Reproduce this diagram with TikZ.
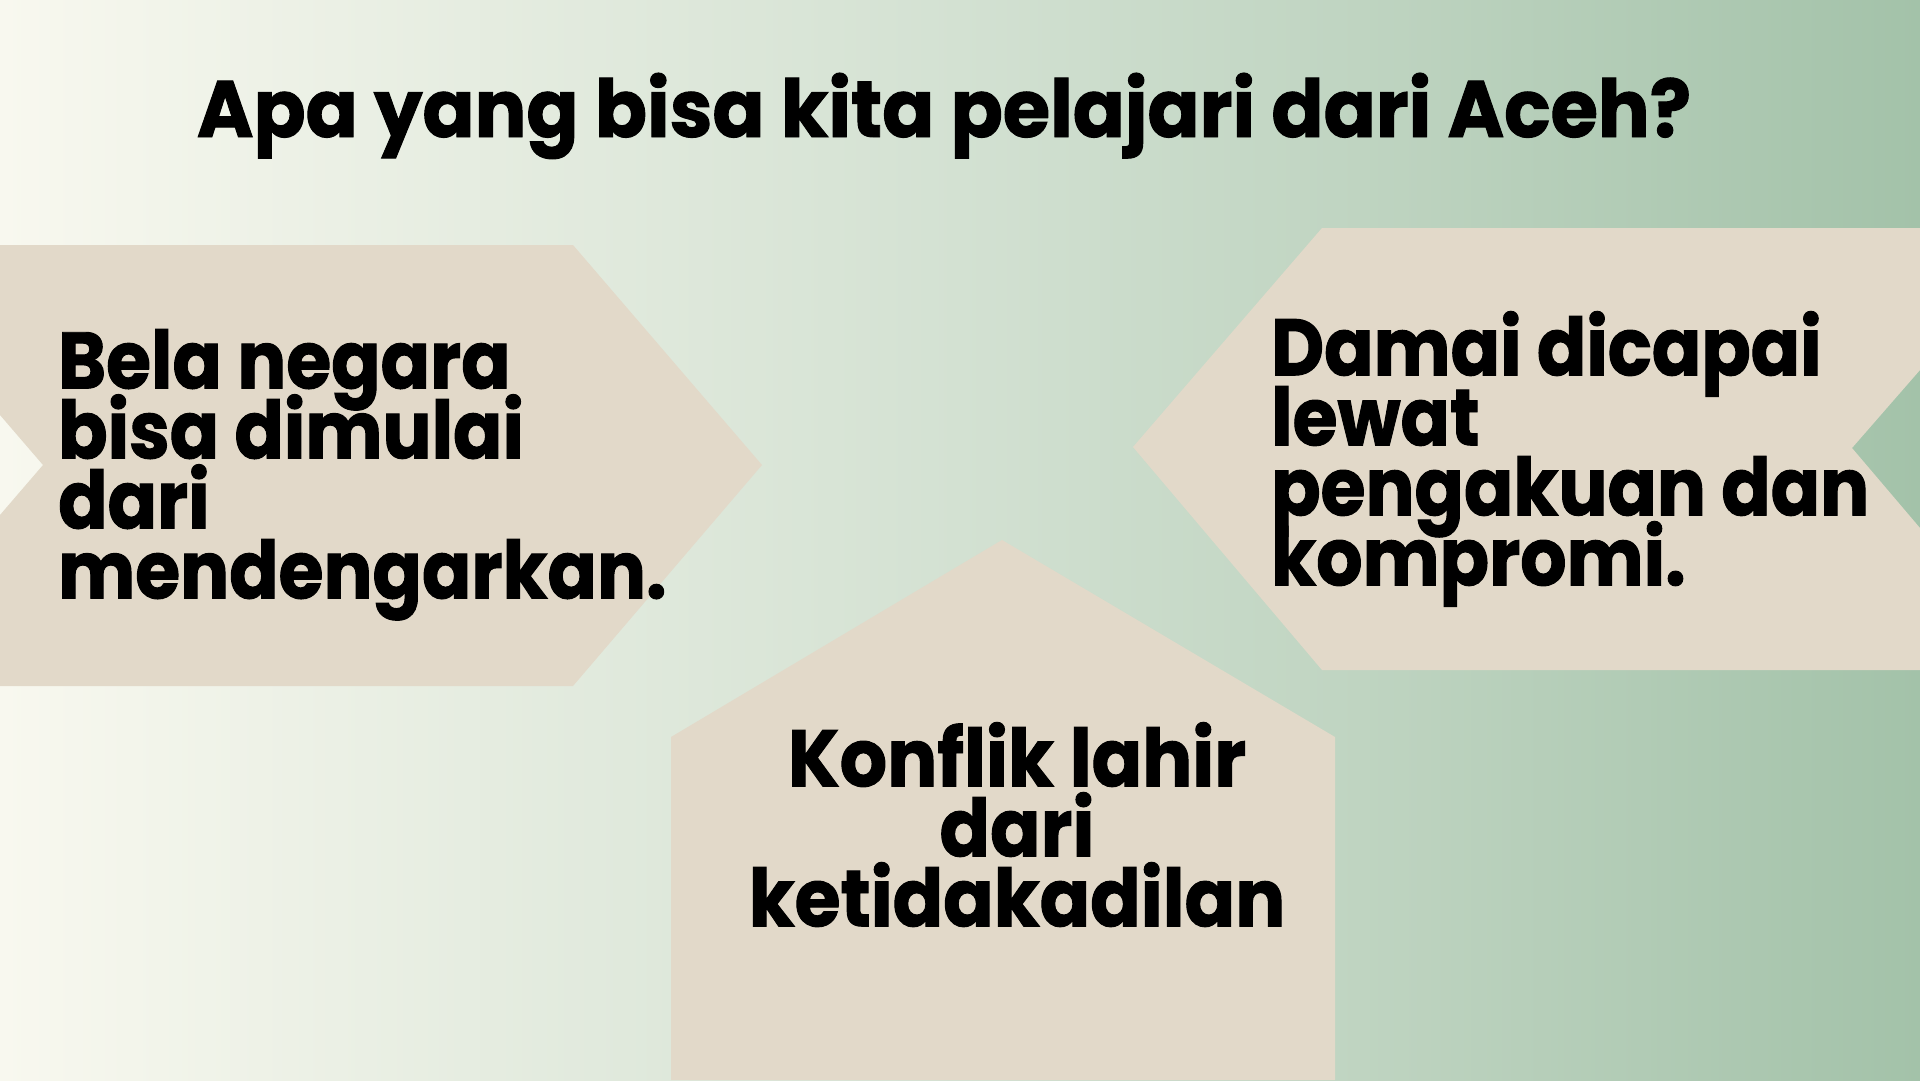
\documentclass[tikz,border=0pt]{standalone}
\usepackage{fontspec}
\setmainfont{Poppins}[BoldFont={* Bold}]
\newfontfamily\bodyfont{Poppins}[BoldFont={* Bold},FakeStretch=0.91,FakeBold=1.2]
\newfontfamily\lowfont{Poppins}[BoldFont={* Bold},FakeStretch=0.93,FakeBold=1.2]
\newfontfamily\headfont{Poppins}[BoldFont={* Bold},FakeStretch=0.96,FakeBold=1.2]
\newcommand\tightlines{\lineskiplimit=-200pt\relax\lineskip=0pt\relax}
\definecolor{bgleft}{HTML}{F8F8EF}
\definecolor{bgmid}{HTML}{D3E1D2}
\definecolor{bgright}{HTML}{A3C2A9}
\definecolor{panel}{HTML}{E2D9C9}
\tikzset{
  panelshape/.style={fill=panel, draw=none},
  bigtext/.style={inner sep=0pt, font={\bodyfont\bfseries\fontsize{80}{70}\selectfont\tightlines}, text=black},
  lowtext/.style={inner sep=0pt, font={\lowfont\bfseries\fontsize{80}{70}\selectfont\tightlines}, text=black},
  titletext/.style={inner sep=0pt, font={\headfont\bfseries\fontsize{80}{80}\selectfont}, text=black}
}
\begin{document}
\begin{tikzpicture}[x=1pt,y=-1pt]
\useasboundingbox (0,0) rectangle (1920,1080);
\shade[left color=bgleft, right color=bgright, middle color=bgmid] (0,0) rectangle (1920,1080);
% left chevron
\fill[panelshape] (0,245) -- (573,245) -- (762,465) -- (573,686) -- (0,686) -- (0,515) -- (43,465) -- (0,415) -- cycle;
% right chevron
\fill[panelshape] (1920,228) -- (1322,228) -- (1133,447) -- (1322,670) -- (1920,670) -- (1920,528) -- (1852,448) -- (1920,370) -- cycle;
% bottom house
\fill[panelshape] (671,1080) -- (671,737) -- (1002,540) -- (1335,737) -- (1335,1080) -- cycle;
% texts
\node[titletext, anchor=base] (title) at (944,137) {Apa yang bisa kita pelajari dari Aceh?};
\node[bigtext, anchor=north west, align=left] (left) at (58,329) {Bela negara\\bisa dimulai\\dari\\mendengarkan.};
\node[bigtext, anchor=north west, align=left] (right) at (1271,311) {Damai dicapai\\lewat\\pengakuan dan\\kompromi.};
\node[lowtext, anchor=north, align=center] (bottom) at (1017,722) {Konflik lahir\\dari\\ketidakadilan};
\end{tikzpicture}
\end{document}
